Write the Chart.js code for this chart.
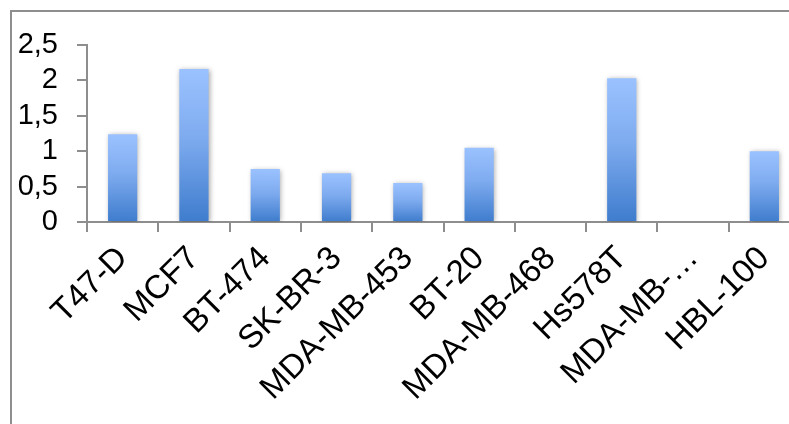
<!DOCTYPE html>
<html>
<head>
<meta charset="utf-8">
<script src="https://cdn.jsdelivr.net/npm/chart.js@4/dist/chart.umd.min.js"></script>
<style>
  html, body { margin: 0; padding: 0; background: #fff; overflow: hidden; width: 789px; height: 424px; }
  #wrap { position: absolute; left: 0; top: 0; width: 800px; height: 424px; }
  #frame { position: absolute; left: 10px; top: 10px; width: 900px; height: 600px; border: 2px solid #8e8e8e; box-sizing: border-box; pointer-events: none; }
  canvas { position: absolute; left: 0; top: 0; }
</style>
</head>
<body>
<div id="frame"></div>
<div id="wrap"><canvas id="c" width="800" height="424"></canvas></div>
<script>
const categories = ["T47-D", "MCF7", "BT-474", "SK-BR-3", "MDA-MB-453", "BT-20", "MDA-MB-468", "Hs578T", "MDA-MB-\u2026", "HBL-100"];
const values = [1.24, 2.16, 0.75, 0.69, 0.55, 1.05, 0, 2.03, 0, 1.0];
const yTicks = [0, 0.5, 1, 1.5, 2, 2.5];

const fontFamily = "'Liberation Sans', Arial, sans-serif";

function barGradient(ctx) {
  const chart = ctx.chart;
  const y = chart.scales && chart.scales.y;
  if (!y || ctx.raw === undefined) return '#6a9de6';
  const top = y.getPixelForValue(ctx.raw);
  const base = y.getPixelForValue(0);
  if (!isFinite(top) || !isFinite(base) || Math.abs(base - top) < 1) return '#6a9de6';
  const g = chart.ctx.createLinearGradient(0, top, 0, base);
  g.addColorStop(0, '#9bc2ff');
  g.addColorStop(0.45, '#7eabef');
  g.addColorStop(1, '#3e7ccd');
  return g;
}

const shadowPlugin = {
  id: 'barShadow',
  beforeDatasetsDraw(chart) {
    const c = chart.ctx;
    c.save();
    c.shadowColor = 'rgba(0,0,0,0.35)';
    c.shadowBlur = 5;
    c.shadowOffsetX = 1;
    c.shadowOffsetY = 1;
  },
  afterDatasetsDraw(chart) {
    chart.ctx.restore();
  }
};

new Chart(document.getElementById('c'), {
  type: 'bar',
  data: {
    labels: categories,
    datasets: [{
      data: values,
      backgroundColor: barGradient,
      borderWidth: 0,
      categoryPercentage: 0.82,
      barPercentage: 0.5
    }]
  },
  options: {
    responsive: false,
    animation: false,
    devicePixelRatio: 1,
    layout: { padding: { top: 45, right: 0, bottom: 0, left: 0 } },
    plugins: { legend: { display: false }, tooltip: { enabled: false } },
    scales: {
      x: {
        offset: true,
        border: { display: true, color: '#8e8e8e', width: 2 },
        grid: { display: true, offset: true, drawOnChartArea: false, drawTicks: true, tickLength: 10, color: '#8e8e8e', lineWidth: 2 },
        ticks: {
          autoSkip: false, maxRotation: 45, minRotation: 45, padding: 7,
          color: '#000', font: { family: fontFamily, size: 33 }
        },
        afterFit(scale) { scale.height = 424 - 222; }
      },
      y: {
        min: 0, max: 2.5,
        afterBuildTicks(scale) { scale.ticks = yTicks.map(v => ({ value: v })); },
        border: { display: true, color: '#8e8e8e', width: 2 },
        grid: { display: true, drawOnChartArea: false, drawTicks: true, tickLength: 10, color: '#8e8e8e', lineWidth: 2 },
        ticks: {
          autoSkip: false, padding: 19, color: '#000', font: { family: fontFamily, size: 29 },
          callback: (v) => String(v).replace('.', ',')
        },
        afterFit(scale) { scale.width = 87; }
      }
    }
  },
  plugins: [shadowPlugin]
});
</script>
</body>
</html>
